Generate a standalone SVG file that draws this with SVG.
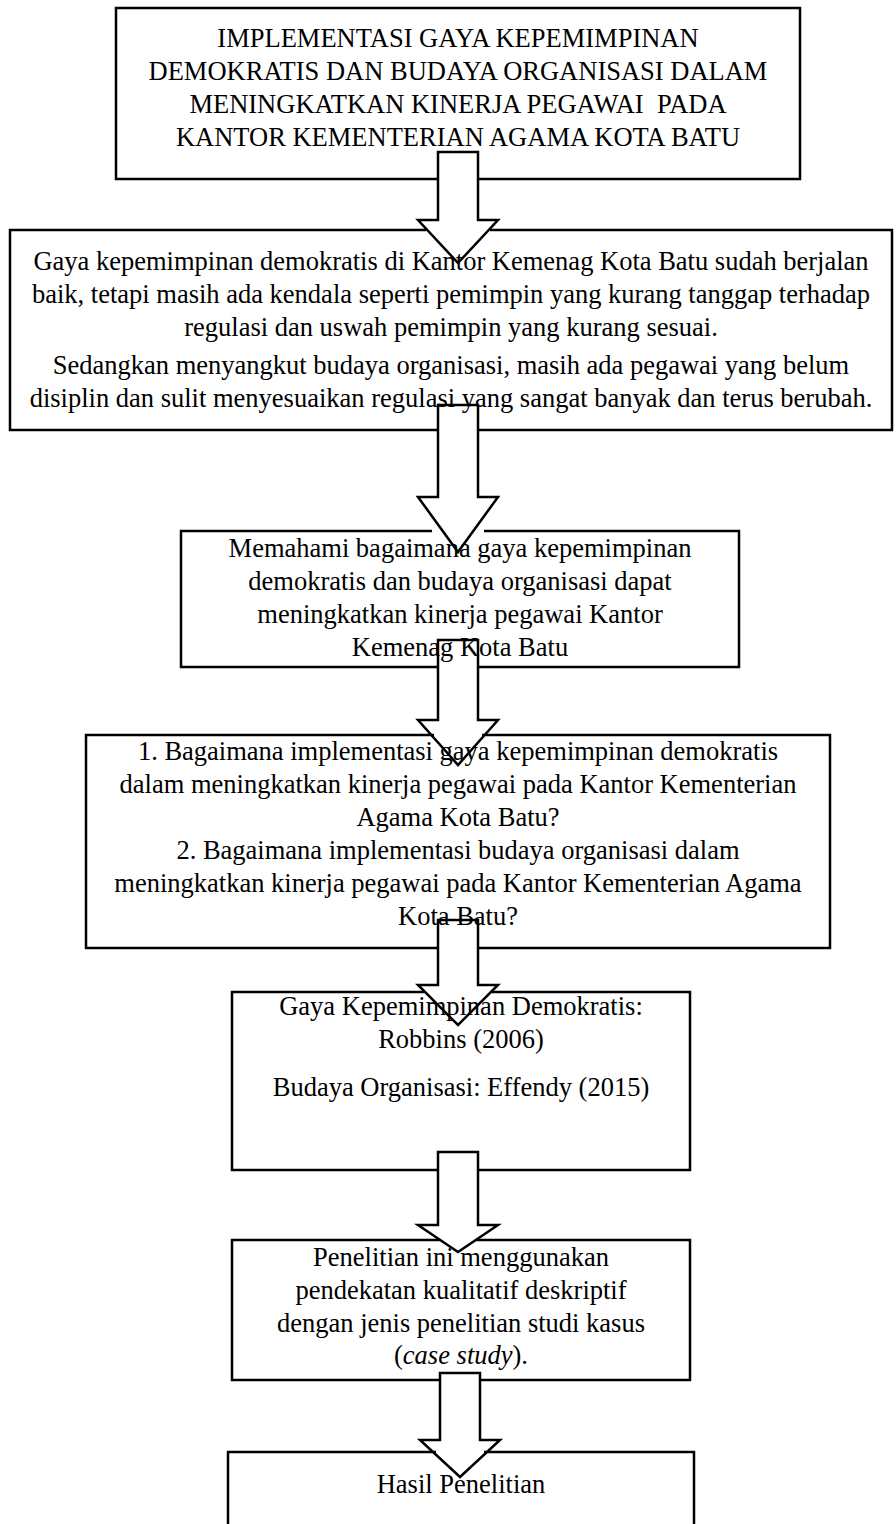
<svg xmlns="http://www.w3.org/2000/svg" width="896" height="1524" viewBox="0 0 896 1524">
<style>
.box{fill:#fff;stroke:#000;stroke-width:2.5}
.t{font-family:"Liberation Serif","Times New Roman",serif;font-size:26.5px;text-anchor:middle;fill:#000}
.arr{fill:none;stroke:#000;stroke-width:2.5;stroke-linejoin:miter}
.gap{fill:#fff;stroke:none}
</style>
<rect x="0" y="0" width="896" height="1524" fill="#fff"/>
<g id="n1">
<rect class="box" x="116" y="8" width="684" height="171"/>
<text class="t" x="458" y="47">IMPLEMENTASI GAYA KEPEMIMPINAN</text>
<text class="t" x="458" y="80">DEMOKRATIS DAN BUDAYA ORGANISASI DALAM</text>
<text class="t" x="458" y="113" xml:space="preserve">MENINGKATKAN KINERJA PEGAWAI  PADA</text>
<text class="t" x="458" y="146">KANTOR KEMENTERIAN AGAMA KOTA BATU</text>
</g>
<g id="n2">
<rect class="box" x="10" y="230" width="882" height="200"/>
<text class="t" x="451" y="270">Gaya kepemimpinan demokratis di Kantor Kemenag Kota Batu sudah berjalan</text>
<text class="t" x="451" y="303">baik, tetapi masih ada kendala seperti pemimpin yang kurang tanggap terhadap</text>
<text class="t" x="451" y="336">regulasi dan uswah pemimpin yang kurang sesuai.</text>
<text class="t" x="451" y="374">Sedangkan menyangkut budaya organisasi, masih ada pegawai yang belum</text>
<text class="t" x="451" y="407">disiplin dan sulit menyesuaikan regulasi yang sangat banyak dan terus berubah.</text>
</g>
<g id="n3">
<rect class="box" x="181" y="531" width="558" height="136"/>
<text class="t" x="460" y="557">Memahami bagaimana gaya kepemimpinan</text>
<text class="t" x="460" y="590">demokratis dan budaya organisasi dapat</text>
<text class="t" x="460" y="623">meningkatkan kinerja pegawai Kantor</text>
<text class="t" x="460" y="656">Kemenag Kota Batu</text>
</g>
<g id="n4">
<rect class="box" x="86" y="735" width="744" height="213"/>
<text class="t" x="458" y="760">1. Bagaimana implementasi gaya kepemimpinan demokratis</text>
<text class="t" x="458" y="793">dalam meningkatkan kinerja pegawai pada Kantor Kementerian</text>
<text class="t" x="458" y="826">Agama Kota Batu?</text>
<text class="t" x="458" y="859">2. Bagaimana implementasi budaya organisasi dalam</text>
<text class="t" x="458" y="892">meningkatkan kinerja pegawai pada Kantor Kementerian Agama</text>
<text class="t" x="458" y="925">Kota Batu?</text>
</g>
<g id="n5">
<rect class="box" x="232" y="992" width="458" height="178"/>
<text class="t" x="461" y="1015">Gaya Kepemimpinan Demokratis:</text>
<text class="t" x="461" y="1048">Robbins (2006)</text>
<text class="t" x="461" y="1096">Budaya Organisasi: Effendy (2015)</text>
</g>
<g id="n6">
<rect class="box" x="232" y="1240" width="458" height="140"/>
<text class="t" x="461" y="1266">Penelitian ini menggunakan</text>
<text class="t" x="461" y="1299">pendekatan kualitatif deskriptif</text>
<text class="t" x="461" y="1332">dengan jenis penelitian studi kasus</text>
<text class="t" x="461" y="1364">(<tspan font-style="italic">case study</tspan>).</text>
</g>
<g id="n7">
<rect class="box" x="228" y="1452" width="466" height="90"/>
<text class="t" x="461" y="1493">Hasil Penelitian</text>
</g>
<g id="connectors">
<rect class="gap" x="439" y="176" width="38" height="6"/>
<rect class="gap" x="426" y="227" width="64" height="6"/>
<polygon class="arr" points="438,152 478,152 478,220 498,220 458,263 418,220 438,220"/>
<rect class="gap" x="439" y="427" width="38" height="6"/>
<rect class="gap" x="432" y="528" width="52" height="6"/>
<polygon class="arr" points="438,405 478,405 478,497 498,497 458,552 418,497 438,497"/>
<rect class="gap" x="439" y="664" width="38" height="6"/>
<rect class="gap" x="434" y="732" width="48" height="6"/>
<polygon class="arr" points="438,640 478,640 478,720 498,720 458,765 418,720 438,720"/>
<rect class="gap" x="439" y="945" width="38" height="6"/>
<rect class="gap" x="424" y="989" width="68" height="6"/>
<polygon class="arr" points="438,920 478,920 478,985 498,985 458,1025 418,985 438,985"/>
<rect class="gap" x="439" y="1167" width="38" height="6"/>
<rect class="gap" x="440" y="1237" width="36" height="6"/>
<polygon class="arr" points="438,1152 478,1152 478,1225 498,1225 458,1252 418,1225 438,1225"/>
<rect class="gap" x="441" y="1377" width="38" height="6"/>
<rect class="gap" x="436" y="1449" width="48" height="6"/>
<polygon class="arr" points="440,1373 480,1373 480,1440 500,1440 460,1477 420,1440 440,1440"/>
</g>
</svg>
